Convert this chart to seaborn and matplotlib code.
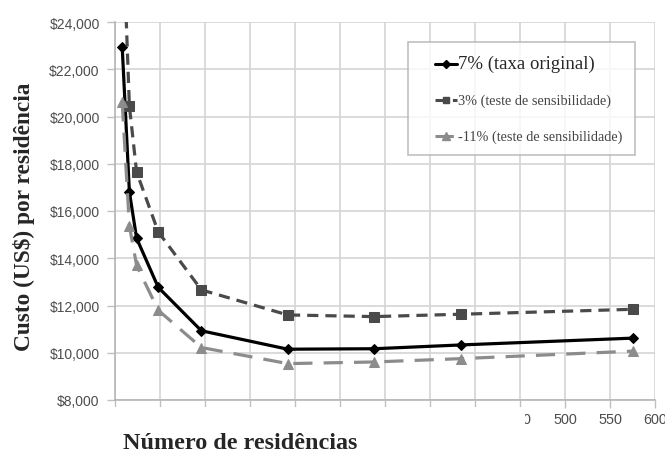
import matplotlib
matplotlib.use("Agg")
import matplotlib.pyplot as plt
import matplotlib.ticker as mticker
from matplotlib.lines import Line2D
from matplotlib.patches import Rectangle
from matplotlib.legend_handler import HandlerLine2D
import pandas as pd
import seaborn as sns

# Number of residences served and cost per residence (US$) under three discount rates
residencias = [8, 16, 24, 48, 96, 192, 288, 384, 576]
custo_7 = [22950, 16800, 14850, 12770, 10930, 10150, 10170, 10330, 10620]
custo_3 = [28700, 20440, 17650, 15120, 12660, 11600, 11530, 11630, 11840]
custo_m11 = [20600, 15370, 13700, 11800, 10220, 9540, 9610, 9750, 10070]

rotulos = ["7% (taxa original)",
           "3% (teste de sensibilidade)",
           "-11% (teste de sensibilidade)"]

x_ticks = list(range(0, 601, 50))
y_ticks = list(range(8000, 24001, 2000))

sns.set_style("white")
plt.rcParams["font.family"] = ["Liberation Sans", "DejaVu Sans"]
serif = ["Liberation Serif", "DejaVu Serif"]

fig = plt.figure(figsize=(6.65, 4.52), dpi=100)
ax = fig.add_axes([115 / 665, 1 - 401 / 452, 540 / 665, 378 / 452])

estilos = [
    dict(y=custo_7, color="black", marker="D", ms=5.5, dashes=None, lw=2.3),
    dict(y=custo_3, color="#4a4a4a", marker="s", ms=6.5, dashes=(3.5, 2.2), lw=2.3),
    dict(y=custo_m11, color="#8c8c8c", marker="^", ms=7.5, dashes=(6, 3.5), lw=2.3),
]

for est in estilos:
    df = pd.DataFrame({"x": residencias, "y": est["y"]})
    kw = {}
    if est["dashes"] is not None:
        kw["dashes"] = est["dashes"]
    sns.lineplot(data=df, x="x", y="y", ax=ax, color=est["color"],
                 marker=est["marker"], markersize=est["ms"],
                 markeredgecolor=est["color"], linewidth=est["lw"],
                 zorder=3, **kw)

ax.set_xlim(0, 600)
ax.set_ylim(8000, 24000)
ax.set_xticks(x_ticks)
ax.set_yticks(y_ticks)
ax.yaxis.set_major_formatter(mticker.FuncFormatter(lambda v, p: "\\$" + f"{int(v):,}"))
ax.xaxis.set_major_formatter(mticker.FuncFormatter(lambda v, p: f"{int(v)}"))
ax.grid(True, color="#d4d4d4", linewidth=1.2, zorder=0)
ax.set_axisbelow(True)
for s in ["top", "right"]:
    ax.spines[s].set_visible(False)
for s in ["left", "bottom"]:
    ax.spines[s].set_color("#b5b5b5")
    ax.spines[s].set_linewidth(1.2)
ax.tick_params(axis="both", which="both", direction="out", length=6,
               width=1.0, color="#c0c0c0", labelcolor="#4d4d4d",
               bottom=True, left=True)
ax.tick_params(axis="y", labelsize=10, pad=5)
ax.tick_params(axis="x", labelsize=10.4, pad=3)
ax.set_xlabel("")
ax.set_ylabel("")

# White strip hiding the lower x tick labels
fig.add_artist(Rectangle((95 / 665, 1 - 428 / 452), (525 - 95) / 665, 20 / 452,
                         transform=fig.transFigure, facecolor="white",
                         edgecolor="none", zorder=10))

fig.text(24 / 665, 1 - 217 / 452, "Custo (US\\$) por residência", rotation=90,
         ha="center", va="center", fontsize=16.8, fontweight="bold", family=serif)
fig.text(123 / 665, 1 - 449.5 / 452, "Número de residências", ha="left",
         va="baseline", fontsize=17.4, fontweight="bold", family=serif)

handles = [
    Line2D([], [], color="black", marker="D", ms=4, lw=2.2),
    Line2D([], [], color="#4a4a4a", marker="s", ms=5, lw=2.2, dashes=(3.5, 2.2)),
    Line2D([], [], color="#8c8c8c", marker="^", ms=5.5, lw=2.2, dashes=(6, 3.5)),
]
leg = ax.legend(handles, rotulos, loc="upper left",
                bbox_to_anchor=(408 / 665, 1 - 43 / 452),
                bbox_transform=fig.transFigure, frameon=True, fancybox=False,
                prop={"family": serif, "size": 8},
                handler_map={h: HandlerLine2D(xpad=1.3) for h in handles},
                handlelength=3.3, handletextpad=0.1, labelspacing=2.0,
                borderpad=1.1, borderaxespad=0)
leg.get_frame().set_edgecolor("#b0b0b0")
leg.get_frame().set_linewidth(1.2)
texts = leg.get_texts()
texts[0].set_fontsize(13.5)
for t in texts[1:]:
    t.set_fontsize(10.3)
    t.set_color("#444444")

fig.savefig("out.png", dpi=100, facecolor="white")
